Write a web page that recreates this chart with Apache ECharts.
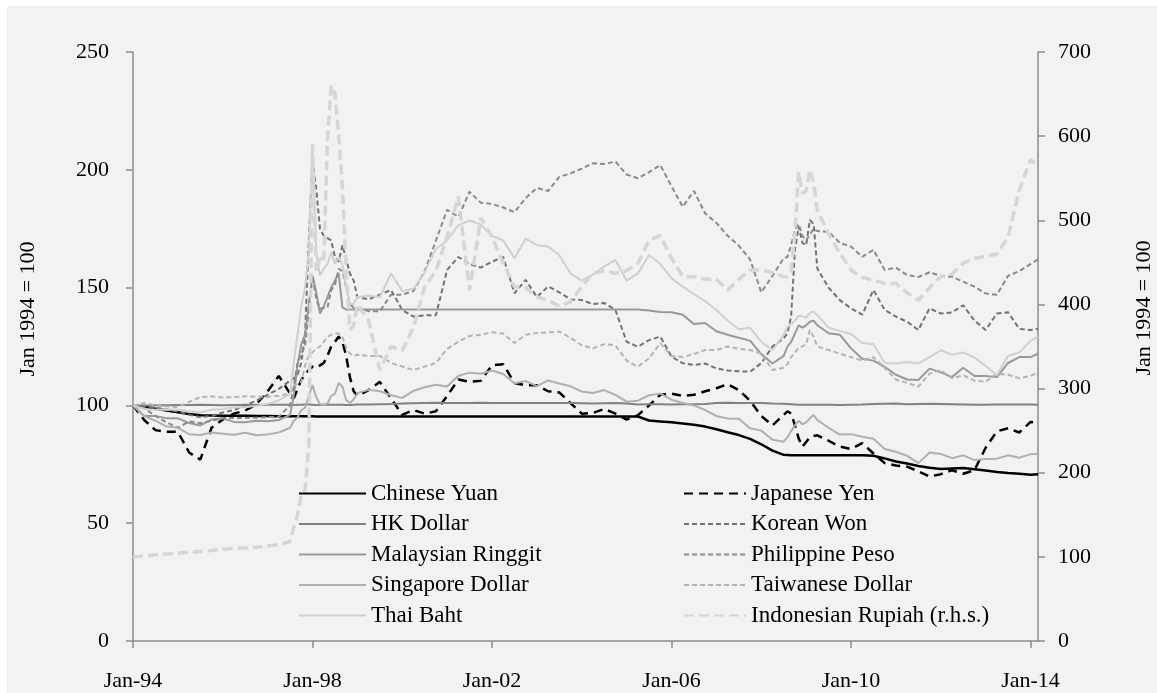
<!DOCTYPE html>
<html>
<head>
<meta charset="utf-8">
<script src="https://cdn.jsdelivr.net/npm/echarts@6/dist/echarts.min.js"></script>
<style>
  html, body { margin: 0; padding: 0; background: #ffffff; }
  #chart { position: absolute; left: 7px; top: 6px; width: 1150px; height: 687px; }
</style>
</head>
<body>
<div id="chart"></div>
<script>
// months since Jan-94 (quarterly, monthly through the 1997-98 and 2008-09 crises)
const months = [
  0, 3, 6, 9, 12, 15, 18, 21, 24, 27, 30, 33, 36, 39,
  42, 43, 44, 45, 46, 47, 48, 49, 50, 51, 52, 53, 54, 55, 56, 57, 58, 59, 60,
  63, 66, 69, 72, 75, 78, 81, 84, 87, 90, 93, 96, 99, 102, 105, 108, 111, 114, 117,
  120, 123, 126, 129, 132, 135, 138, 141, 144, 147, 150, 153, 156, 159, 162, 165, 168, 171, 174,
  175, 176, 177, 178, 179, 180, 181, 182, 183,
  186, 189, 192, 195, 198, 201, 204, 207, 210, 213, 216, 219, 222, 225, 228, 231, 234, 237, 240, 242
];

const xTickYears = ['94', '98', '02', '06', '10', '14'];

const chineseYuan = [
  100, 99.4, 98.6, 97.8, 97.1, 96.3, 95.8, 95.7, 95.6, 95.6, 95.6, 95.5, 95.5, 95.4,
  95.4, 95.4, 95.4, 95.4, 95.4, 95.4, 95.4, 95.3, 95.3, 95.3, 95.3, 95.3, 95.3, 95.3, 95.3, 95.3, 95.3, 95.3, 95.3,
  95.3, 95.3, 95.3, 95.3, 95.3, 95.3, 95.3, 95.3, 95.3, 95.3, 95.3, 95.3, 95.3, 95.3, 95.3, 95.3, 95.3, 95.3, 95.3,
  95.3, 95.3, 95.3, 95.3, 95.3, 95.3, 93.6, 93.2, 92.8, 92.3, 91.8, 91.0, 89.9, 88.6, 87.4, 85.8, 83.5, 80.8, 79.0,
  78.9, 78.8, 78.8, 78.8, 78.8, 78.8, 78.8, 78.8, 78.8,
  78.8, 78.8, 78.8, 78.8, 78.6, 77.5, 76.2, 75.3, 74.3, 73.5, 73.0, 73.2, 73.4, 72.9, 72.4, 71.7, 71.3, 71.0, 70.6, 70.8
];

const japaneseYen = [
  100, 93.8, 89.5, 88.8, 88.8, 80, 77, 90.5, 94, 96.5, 97.8, 100.5, 106, 112.5,
  105, 103, 107, 110.8, 113, 115, 116.4, 116, 117, 118, 121, 125, 127, 129.2, 127, 121, 112, 106, 104,
  106.5, 110, 103, 96, 98, 96.5, 97.5, 104, 111, 110, 110.5, 117, 117.5, 109.5, 108.5, 108.5, 106, 105.5, 101,
  96.5, 96.8, 98.5, 96.5, 94, 95.8, 100, 104.5, 105, 104, 104.5, 106, 107.3, 109, 106.5, 102, 95.5, 91.5, 96,
  97.5, 96.5, 91.5, 86, 82.5, 84.5, 86.5, 87, 87.3,
  85, 82.5, 81.5, 84, 79.6, 75.5, 74.5, 74, 72, 69.8, 70.8, 72.5, 71, 72.5, 82, 89, 90.3, 88.5, 93, 92.5
];

const hkDollar = [
  100, 100, 100.1, 100.1, 100.2, 100.2, 100.3, 100.2, 100.1, 100.2, 100.3, 100.2, 100.3, 100.3,
  100.3, 100.2, 100.3, 100.3, 100.4, 100.4, 100.3, 100.2, 100.2, 100.3, 100.3, 100.3, 100.3, 100.3, 100.3, 100.2, 100.2, 100.3, 100.4,
  100.4, 100.5, 100.6, 100.8, 100.9, 101, 101.1, 101, 101, 101, 101.1, 101, 101, 101, 101, 101, 101, 101, 101,
  100.9, 100.8, 100.9, 101, 100.8, 100.4, 100.5, 100.5, 100.4, 100.5, 100.5, 100.6, 101, 101.1, 101, 101, 101, 100.8, 100.7,
  100.6, 100.5, 100.4, 100.3, 100.3, 100.3, 100.3, 100.3, 100.3,
  100.3, 100.2, 100.3, 100.4, 100.6, 100.7, 100.8, 100.5, 100.6, 100.7, 100.6, 100.5, 100.4, 100.3, 100.3, 100.4, 100.4, 100.4, 100.4, 100.3
];

const koreanWon = [
  100, 99.5, 99, 98.3, 97.5, 96, 95, 95.5, 97, 98, 100, 102, 104.5, 107,
  110.5, 111.5, 113, 118, 130, 170, 204, 192, 175, 172, 171, 170, 163, 161, 168, 162, 156, 153, 146,
  145, 147, 149, 140.5, 137.7, 138.2, 138.3, 157.5, 163, 160, 158.5, 161, 163, 147.6, 153.3, 146, 150.5, 148, 145,
  144.7, 143, 143.5, 140.5, 127, 124.9, 127.7, 129.2, 120.7, 117.9, 117.2, 117.8, 115.7, 114.8, 114.5, 114.3, 117.9, 125, 128.5,
  130.6, 138, 165.9, 175.9, 169, 168, 178.7, 177, 158,
  150, 144.7, 141.2, 138.5, 149, 140.5, 137.7, 135.5, 132, 141.2, 139, 139.5, 142.5, 136, 132, 139, 139.5, 132.5, 132, 132.5
];

const malaysianRinggit = [
  100, 95.5, 95.5, 94.5, 94.5, 92.5, 91.5, 94, 94.5, 93, 92.8, 93.5, 93.3, 93.8,
  96, 104, 117, 126, 130, 143, 155, 148, 139, 142, 146, 150, 153, 156, 141.5, 140.7, 140.7, 140.7, 140.7,
  140.7, 140.7, 140.7, 140.7, 140.7, 140.7, 140.7, 140.7, 140.7, 140.7, 140.7, 140.7, 140.7, 140.7, 140.7, 140.7, 140.7, 140.7, 140.7,
  140.7, 140.7, 140.7, 140.7, 140.7, 140.7, 140.3, 139.6, 139.5, 138.5, 134.5, 135, 131.5, 130, 128.7, 127.5, 121.8, 117.8, 121,
  125, 127, 130.5, 134, 133, 134, 135.5, 136, 134,
  130.6, 130, 124.2, 119.8, 119, 116.4, 113, 111, 110.8, 115.6, 114, 112, 116, 112.5, 112.5, 112, 118, 120.5, 120.5, 122
];

const philippinePeso = [
  100, 98.8, 95.5, 92.8, 90.5, 93.2, 92.5, 93.5, 94.5, 94.7, 94.7, 94.8, 95, 95.2,
  100, 108, 118, 122, 125, 140, 155, 145, 141, 141.5, 141.5, 149, 151, 158, 157, 150, 143, 141.5, 141.5,
  140, 140, 147, 147, 148.5, 157, 170, 183, 180, 190.7, 186, 185.5, 184, 182, 188, 192.3, 191, 197, 198.5,
  200.5, 202.8, 202.5, 203.5, 198, 196.4, 199, 202, 193, 184.3, 191, 181.5, 177.5, 172, 167.8, 162, 148, 155, 162.5,
  163, 168, 174.5, 177, 172, 170, 172.5, 175, 174,
  173.7, 169, 167.4, 163.1, 166, 157.5, 158.5, 155.3, 154.5, 156.5, 155, 154.6, 152.5, 150.4, 147.5, 147, 155, 157, 160, 162
];

const singaporeDollar = [
  100, 95.5, 93.5, 91, 90.5, 87.8, 87.4, 88.5, 88, 87.5, 88.4, 87.3, 87.7, 88.5,
  90.5, 93.5, 94.8, 98, 99, 104, 108.6, 103.5, 100.5, 100.3, 100.8, 104, 105, 109.5, 108, 102.3, 101, 102.5, 105.2,
  106.6, 106, 104.3, 103.2, 106.2, 107.7, 108.8, 108, 112.6, 113.9, 113.4, 114.8, 113.3, 109.4, 110.3, 108.2, 110.6, 109.3, 108.1,
  105.9, 105.3, 106.5, 104.5, 101.6, 102, 104.3, 105, 102.4, 101, 100, 98, 95.5, 94.4, 94.3, 90.3, 89.3, 85.4, 84.6,
  86.5, 89.1, 91.5, 93.5, 92, 92.8, 94.5, 95.9, 93.8,
  90.5, 87.6, 87.8, 86.7, 85.8, 81.5, 80.3, 78.6, 75.5, 80, 79.4, 77.6, 78.8, 76.8, 77.2, 77.4, 78.8, 77.8, 79.3, 79.5
];

const taiwaneseDollar = [
  100, 101, 100, 99.6, 99.3, 101.5, 103.5, 103.8, 103.4, 103.5, 103.9, 103.7, 103.6, 104.1,
  105, 108.5, 109, 110, 117, 121, 122.5, 124, 125, 127, 129, 130, 130.5, 130.5, 129, 124.5, 122, 121, 121.5,
  121, 121, 118, 116.5, 115, 116.5, 118, 124, 127, 129.5, 130, 131, 130.5, 126.5, 130, 130.7, 131, 131.3, 128.7,
  125.5, 124.2, 126, 125.5, 119, 116.4, 120, 126.4, 121, 120.5, 121.8, 123.5, 123.5, 125, 124, 123.5, 122, 115, 116,
  117.5, 120.5, 122.5, 124.5, 125, 126, 132, 129, 125,
  123.5, 122, 120.5, 119, 120.5, 116, 111, 109.5, 108, 113.5, 115, 111.5, 112.8, 110.5, 110, 113.5, 113, 111.5, 112.5, 114
];

const thaiBaht = [
  100, 98.5, 98.2, 98.2, 98.3, 97.5, 97, 98.2, 98.5, 99.2, 99.2, 99.8, 100.7, 102.1,
  105, 118, 130, 142, 150, 165, 211, 165, 155, 158, 160, 165, 160, 163, 160, 150, 143, 143, 146,
  146.5, 146, 156, 148.5, 149.5, 156.5, 166.5, 170, 176.5, 178.5, 176.7, 172, 170, 162.5, 170.8, 168, 167.4, 163.7, 156,
  153, 155.5, 159, 161.7, 153, 156, 163.8, 160, 154, 150.4, 147.2, 144.2, 140.5, 136, 132.3, 133, 127, 123.5, 130,
  133.4, 134.4, 136, 138, 137.8, 137.3, 139.3, 139.8, 138.3,
  133, 131.6, 130.3, 126.5, 126, 118, 117.8, 118.4, 117.8, 120.5, 123.4, 121.5, 122.5, 120.4, 116.7, 112.8, 121, 122.5, 127.4, 129.2
];

// right-hand scale
const indonesianRupiah = [
  100, 101, 102.5, 103.5, 104.5, 105.5, 106.5, 107.5, 109, 110, 110.5, 111.5, 113, 114.5,
  118, 135, 150, 175, 180, 230, 590, 440, 455, 450, 595, 660, 650, 600, 540, 440, 370, 375, 400,
  381, 322, 350, 345, 373, 421, 440, 480, 528, 417, 503, 480, 449, 421, 420, 409, 405, 398, 403,
  421, 437, 440, 437, 440, 449, 476, 482, 455, 433, 433, 430, 430, 417, 430, 441, 441, 438, 433,
  433, 440, 484, 557, 532, 535, 560, 545, 512,
  484, 461, 441, 432, 429, 425, 425, 414, 405, 420, 433, 436, 449, 455, 457, 460, 480, 536, 572, 565
];

const legendLeft = ['Chinese Yuan', 'HK Dollar', 'Malaysian Ringgit', 'Singapore Dollar', 'Thai Baht'];
const legendRight = ['Japanese Yen', 'Korean Won', 'Philippine Peso', 'Taiwanese Dollar', 'Indonesian Rupiah (r.h.s.)'];

const FONT = 'Liberation Serif';
const axisGray = '#8c8c8c';

function pairs(values) {
  return months.map((m, i) => [m, values[i]]);
}

function line(name, values, color, width, dash, yAxisIndex) {
  return {
    name: name,
    type: 'line',
    yAxisIndex: yAxisIndex || 0,
    symbol: 'none',
    showSymbol: false,
    smooth: false,
    lineStyle: { color: color, width: width, type: dash || 'solid' },
    itemStyle: { color: color },
    emphasis: { disabled: true },
    data: pairs(values)
  };
}

const chart = echarts.init(document.getElementById('chart'));

// legend keeps only the line sample, no marker
const legendCommon = {
  orient: 'vertical',
  top: 471,
  itemHeight: 14,
  itemGap: 7.5,
  selectedMode: false,
  itemStyle: { opacity: 0 },
  textStyle: { fontFamily: FONT, fontSize: 23, color: '#000', lineHeight: 23 }
};

chart.setOption({
  animation: false,
  backgroundColor: '#f2f2f2',
  grid: { left: 126, right: 119, top: 46, bottom: 52 },
  legend: [
    Object.assign({}, legendCommon, { left: 286, itemWidth: 67, data: legendLeft }),
    Object.assign({}, legendCommon, { left: 671, itemWidth: 62, data: legendRight })
  ],
  xAxis: {
    type: 'value',
    min: 0,
    max: 242,
    interval: 48,
    splitLine: { show: false },
    axisLine: { lineStyle: { color: axisGray, width: 1.5 } },
    axisTick: { length: 7, lineStyle: { color: axisGray, width: 1.5 } },
    axisLabel: {
      margin: 29,
      fontFamily: FONT,
      fontSize: 22,
      color: '#000',
      showMaxLabel: false,
      formatter: function (v) {
        return v % 48 === 0 ? 'Jan-' + xTickYears[v / 48] : '';
      }
    }
  },
  yAxis: [
    {
      type: 'value',
      min: 0,
      max: 250,
      interval: 50,
      splitLine: { show: false },
      axisLine: { show: true, lineStyle: { color: axisGray, width: 1.5 } },
      axisTick: { show: true, length: 7, lineStyle: { color: axisGray, width: 1.5 } },
      axisLabel: { margin: 24, fontFamily: FONT, fontSize: 22, color: '#000' }
    },
    {
      type: 'value',
      position: 'right',
      min: 0,
      max: 700,
      interval: 100,
      splitLine: { show: false },
      axisLine: { show: true, lineStyle: { color: axisGray, width: 1.5 } },
      axisTick: { show: true, length: 7, lineStyle: { color: axisGray, width: 1.5 } },
      axisLabel: { margin: 20, fontFamily: FONT, fontSize: 22, color: '#000' }
    }
  ],
  graphic: [
    {
      type: 'text', x: 21, y: 303, rotation: Math.PI / 2,
      style: { text: 'Jan 1994 = 100', fontFamily: FONT, fontSize: 22, fill: '#000', textAlign: 'center', textVerticalAlign: 'middle' }
    },
    {
      type: 'text', x: 1137, y: 302, rotation: Math.PI / 2,
      style: { text: 'Jan 1994 = 100', fontFamily: FONT, fontSize: 22, fill: '#000', textAlign: 'center', textVerticalAlign: 'middle' }
    }
  ],
  series: [
    line('Chinese Yuan', chineseYuan, '#000000', 2.5),
    line('Japanese Yen', japaneseYen, '#000000', 2.5, [9, 6]),
    line('HK Dollar', hkDollar, '#828282', 2),
    line('Korean Won', koreanWon, '#727272', 2, [5, 3]),
    line('Malaysian Ringgit', malaysianRinggit, '#999999', 2),
    line('Philippine Peso', philippinePeso, '#8a8a8a', 2, [5, 3]),
    line('Singapore Dollar', singaporeDollar, '#b0b0b0', 2),
    line('Taiwanese Dollar', taiwaneseDollar, '#b4b4b4', 2, [5, 3]),
    line('Thai Baht', thaiBaht, '#d0d0d0', 2),
    line('Indonesian Rupiah (r.h.s.)', indonesianRupiah, '#d6d6d6', 3.5, [10, 5], 1)
  ]
});

window.addEventListener('resize', function () {
  chart.resize();
});
</script>
</body>
</html>
